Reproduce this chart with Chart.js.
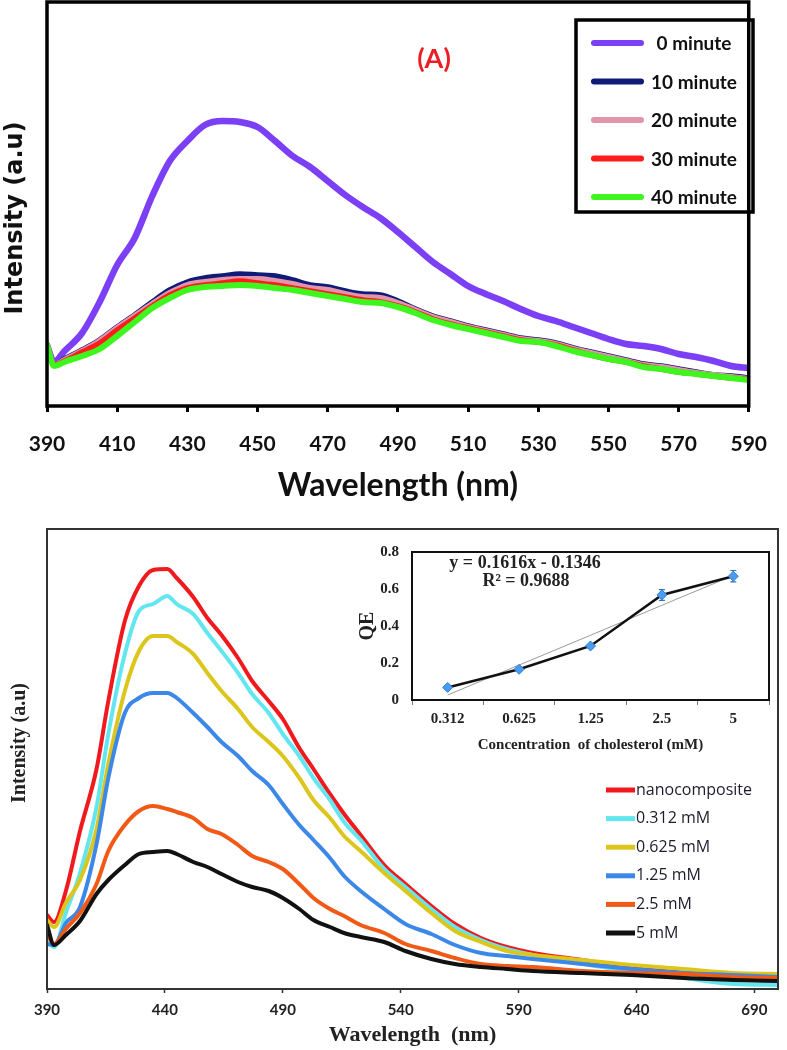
<!DOCTYPE html>
<html>
<head>
<meta charset="utf-8">
<script src="https://cdn.jsdelivr.net/npm/chart.js@4.4.1/dist/chart.umd.min.js"></script>
<style>
html,body{margin:0;padding:0;background:#fff;}
#wrap{position:relative;width:787px;height:1050px;overflow:hidden;background:#fff;}
canvas{position:absolute;}
</style>
</head>
<body>
<div id="wrap">
<canvas id="cA" width="787" height="505" style="left:0;top:0;"></canvas>
<canvas id="cB" width="787" height="545" style="left:0;top:505px;"></canvas>
<canvas id="cC" width="432" height="230" style="left:355px;top:530px;"></canvas>
</div>
<script>
// ---------- Panel A : emission vs time ----------
const wavelengthA = [390,392,395,400,405,410,415,420,425,430,435,440,445,450,455,460,465,470,475,480,485,490,495,500,505,510,515,520,525,530,535,540,545,550,555,560,565,570,575,580,585,590];
const minute0  = [61,44,55,73,104,141,168,210,245,265,281,285,284,279,265,250,239,225,211,199,188,174,159,144,132,120,112,105,97,90,85,79,73,67,62,60,57,52,49,45,40,38];
const minute10 = [61,41,47,56,66,79,91,104,116,124,128,130,132,131,130,126,121,119,115,112,111,105,97,90,85,80,76,72,68,66,63,58,54,50,46,42,40,37,34,31,30,28];
const minute20 = [61,41,46,55,65,78,90,102,113,121,124,126,127,127,125,122,118,116,112,109,108,103,96,89,84,79,75,71,67,65,62,57,53,49,45,41,39,36,33,31,29,27];
const minute30 = [61,41,45,54,63,76,88,100,111,118,121,123,125,123,121,118,115,112,109,106,104,100,94,87,82,78,74,70,66,64,61,56,51,47,44,40,37,34,32,30,28,27];
const minute40 = [61,40,44,50,57,70,84,98,108,116,119,120,121,120,118,116,113,110,107,104,103,99,93,86,81,77,73,69,65,64,60,55,51,47,44,39,37,34,32,30,28,26];
const labelsA = ['0 minute','10 minute','20 minute','30 minute','40 minute'];
const ticksA = [390,410,430,450,470,490,510,530,550,570,590];

// ---------- Panel B : emission vs cholesterol ----------
const wavelengthB = [390,393,398,404,411,416,423,429,435,441,445,452,458,464,471,477,484,490,497,503,510,516,523,533,542,553,563,574,585,596,617,638,660,681,700];
const nanocomposite = [74,67,98,158,220,288,368,403,419,420,411,392,371,354,331,308,288,270,241,220,195,175,154,124,105,83,65,51,42,36,29,22,16,13,11];
const mM0312 = [47,42,76,116,182,255,335,378,385,393,385,375,356,338,316,295,276,255,233,211,189,167,149,120,102,80,62,49,40,34,25,18,11,5,4];
const mM0625 = [69,62,86,109,160,225,298,338,353,353,347,335,316,298,280,262,247,233,211,189,171,153,138,116,98,76,58,47,38,34,29,24,20,16,15];
const mM125  = [45,44,66,82,145,211,276,291,296,296,291,276,262,247,233,218,204,185,164,149,131,113,98,80,65,55,44,36,33,30,25,20,16,14,12];
const mM25   = [55,45,60,76,105,138,164,178,183,180,177,171,160,155,144,133,127,120,105,91,80,73,64,56,45,38,31,25,23,22,18,16,15,12,11];
const mM5    = [64,44,54,68,95,109,124,135,137,138,135,127,122,115,107,102,98,91,80,69,62,56,52,47,38,30,25,22,20,18,16,14,11,9,8];
const labelsB = ['nanocomposite','0.312 mM','0.625 mM','1.25 mM','2.5 mM','5 mM'];
const ticksB = [390,440,490,540,590,640,690];

// ---------- Inset : QE vs concentration ----------
const concLabels = ['0.312','0.625','1.25','2.5','5'];
const qeValues = [0.068,0.166,0.292,0.568,0.669];
const qeErrors = [0.008,0.012,0.010,0.029,0.031];
const qeTrend  = [0.027,0.189,0.350,0.512,0.673];
const ticksQE  = [0,0.2,0.4,0.6,0.8];

const xy = (xs, ys) => xs.map((x, i) => ({x: x, y: ys[i]}));
const fixedTicks = arr => (scale => { scale.ticks = arr.map(v => ({value: v})); });

// ---------------- Chart A ----------------
const colorsA = ['#7b3ff6','#101a78','#e194aa','#ff1c1c','#3ef51e'];
const widthsA = [6.5,5.5,6,5.5,6];
const ordersA = [4,3,2,1,0];
const seriesA = [minute0, minute10, minute20, minute30, minute40];

const decorA = {
  id: 'decorA',
  afterDatasetsDraw(chart) {
    const {ctx, chartArea: a} = chart;
    ctx.save();
    ctx.strokeStyle = '#000';
    ctx.lineWidth = 3.5;
    ctx.strokeRect(a.left, a.top, a.right - a.left, a.bottom - a.top);
    ctx.lineWidth = 3.5;
    ctx.strokeRect(576, 20, 177, 192);
    chart.data.datasets.forEach((ds, i) => {
      const y = 43 + i * 38.5;
      ctx.beginPath();
      ctx.lineCap = 'round';
      ctx.strokeStyle = ds.borderColor;
      ctx.lineWidth = 6;
      ctx.moveTo(594, y); ctx.lineTo(641, y);
      ctx.stroke();
      ctx.fillStyle = '#111';
      ctx.font = 'bold 19px Lato';
      ctx.textAlign = 'center';
      ctx.textBaseline = 'middle';
      ctx.fillText(ds.label, 694, y + 1);
    });
    ctx.fillStyle = '#ee1d23';
    ctx.font = 'bold 27px Lato';
    ctx.textAlign = 'center';
    ctx.textBaseline = 'middle';
    ctx.fillText('(A)', 434, 59);
    ctx.translate(16, 218);
    ctx.rotate(-Math.PI / 2);
    ctx.fillStyle = '#111';
    ctx.font = 'bold 24px "DejaVu Sans"';
    ctx.fillText('Intensity (a.u)', 0, 0);
    ctx.restore();
  }
};

new Chart(document.getElementById('cA'), {
  type: 'line',
  data: {
    datasets: seriesA.map((s, i) => ({
      label: labelsA[i],
      data: xy(wavelengthA, s),
      borderColor: colorsA[i],
      borderWidth: widthsA[i],
      order: ordersA[i],
      fill: false
    }))
  },
  options: {
    responsive: false, animation: false, devicePixelRatio: 1,
    layout: {padding: {left: 47, right: 19, top: 2, bottom: 0}},
    plugins: {legend: {display: false}, tooltip: {enabled: false}},
    elements: {point: {radius: 0}, line: {cubicInterpolationMode: 'monotone', borderCapStyle: 'round', borderJoinStyle: 'round'}},
    scales: {
      x: {
        type: 'linear', min: 390, max: 590,
        afterBuildTicks: fixedTicks(ticksA),
        ticks: {padding: 20, color: '#111', maxRotation: 0, autoSkip: false,
                font: {family: 'Lato', weight: 'bold', size: 21}},
        grid: {display: true, drawOnChartArea: false, drawTicks: true, tickLength: 6, tickWidth: 3, tickColor: '#000'},
        border: {display: false},
        title: {display: true, text: 'Wavelength (nm)', color: '#111', padding: {top: 0, bottom: 0},
                font: {family: 'Lato', weight: 'bold', size: 32}},
        afterFit: s => { s.height = 99; }
      },
      y: {display: false, min: 0, max: 404}
    }
  },
  plugins: [decorA]
});

// ---------------- Chart B ----------------
const colorsB = ['#f01a1e','#62e6ef','#dcc61e','#3c88e8','#f05a16','#111111'];
const ordersB = [5,4,3,2,1,0];
const seriesB = [nanocomposite, mM0312, mM0625, mM125, mM25, mM5];

const decorB = {
  id: 'decorB',
  afterDatasetsDraw(chart) {
    const {ctx, chartArea: a} = chart;
    ctx.save();
    ctx.strokeStyle = '#333';
    ctx.lineWidth = 2;
    ctx.strokeRect(a.left, a.top, a.right - a.left, a.bottom - a.top);
    chart.data.datasets.forEach((ds, i) => {
      const y = 285 + i * 28.6;
      ctx.beginPath();
      ctx.lineCap = 'butt';
      ctx.strokeStyle = ds.borderColor;
      ctx.lineWidth = 5;
      ctx.moveTo(606, y); ctx.lineTo(635, y);
      ctx.stroke();
      ctx.fillStyle = '#1c1c2c';
      ctx.font = '16px "Open Sans"';
      ctx.textAlign = 'left';
      ctx.textBaseline = 'middle';
      ctx.fillText(ds.label, 636, y);
    });
    ctx.translate(20, 238);
    ctx.rotate(-Math.PI / 2);
    ctx.fillStyle = '#222';
    ctx.font = 'bold 20px "Liberation Serif"';
    ctx.textAlign = 'center';
    ctx.textBaseline = 'middle';
    ctx.fillText('Intensity (a.u)', 0, 0);
    ctx.restore();
  }
};

new Chart(document.getElementById('cB'), {
  type: 'line',
  data: {
    datasets: seriesB.map((s, i) => ({
      label: labelsB[i],
      data: xy(wavelengthB, s),
      borderColor: colorsB[i],
      borderWidth: 4,
      order: ordersB[i],
      fill: false
    }))
  },
  options: {
    responsive: false, animation: false, devicePixelRatio: 1,
    layout: {padding: {left: 47, right: 9, top: 24, bottom: 0}},
    plugins: {legend: {display: false}, tooltip: {enabled: false}},
    elements: {point: {radius: 0}, line: {cubicInterpolationMode: 'monotone', borderCapStyle: 'round', borderJoinStyle: 'round'}},
    scales: {
      x: {
        type: 'linear', min: 390, max: 700,
        afterBuildTicks: fixedTicks(ticksB),
        ticks: {padding: 8, color: '#222', maxRotation: 0, autoSkip: false,
                font: {family: 'Lato', weight: 'bold', size: 15}},
        grid: {display: true, drawOnChartArea: false, drawTicks: true, tickLength: 4, tickWidth: 1.5, tickColor: '#333'},
        border: {display: false},
        title: {display: true, text: 'Wavelength  (nm)', color: '#222', padding: {top: 0, bottom: 1},
                font: {family: 'Liberation Serif', weight: 'bold', size: 22}},
        afterFit: s => { s.height = 61; }
      },
      y: {display: false, min: 0, max: 460}
    }
  },
  plugins: [decorB]
});

// ---------------- Chart C (inset) ----------------
const decorC = {
  id: 'decorC',
  beforeDatasetsDraw(chart) {
    const {ctx, scales: {x, y}} = chart;
    ctx.save();
    ctx.strokeStyle = '#3b6fb0';
    ctx.lineWidth = 1.2;
    qeValues.forEach((v, i) => {
      const px = x.getPixelForValue(i);
      const y1 = y.getPixelForValue(v + qeErrors[i]);
      const y2 = y.getPixelForValue(v - qeErrors[i]);
      ctx.beginPath();
      ctx.moveTo(px, y1); ctx.lineTo(px, y2);
      ctx.moveTo(px - 3, y1); ctx.lineTo(px + 3, y1);
      ctx.moveTo(px - 3, y2); ctx.lineTo(px + 3, y2);
      ctx.stroke();
    });
    ctx.restore();
  },
  afterDatasetsDraw(chart) {
    const {ctx, chartArea: a} = chart;
    ctx.save();
    ctx.strokeStyle = '#111';
    ctx.lineWidth = 2;
    ctx.strokeRect(a.left, a.top, a.right - a.left, a.bottom - a.top);
    ctx.fillStyle = '#222';
    ctx.font = 'bold 18px "Liberation Serif"';
    ctx.textAlign = 'center';
    ctx.textBaseline = 'middle';
    ctx.fillText('y = 0.1616x - 0.1346', 170, 33);
    ctx.fillText('R\u00B2 = 0.9688', 171, 51);
    ctx.restore();
  }
};

new Chart(document.getElementById('cC'), {
  type: 'line',
  data: {
    labels: concLabels,
    datasets: [
      {label: 'QE', data: qeValues, borderColor: '#111', borderWidth: 2.5, tension: 0,
       pointStyle: 'rectRot', pointRadius: 5, pointBackgroundColor: '#4b9bef', pointBorderColor: '#2f7fd8', pointBorderWidth: 1, order: 0},
      {label: 'Linear (QE)', data: qeTrend, borderColor: '#9a9a9a', borderWidth: 1, pointRadius: 0, tension: 0, order: 1}
    ]
  },
  options: {
    responsive: false, animation: false, devicePixelRatio: 1,
    layout: {padding: {left: 0, right: 18, top: 13, bottom: 0}},
    plugins: {legend: {display: false}, tooltip: {enabled: false}},
    scales: {
      x: {
        type: 'category', offset: true,
        ticks: {padding: 5, color: '#222', font: {family: 'Liberation Serif', weight: 'bold', size: 15}, maxRotation: 0, autoSkip: false},
        grid: {display: true, offset: true, drawOnChartArea: false, drawTicks: true, tickLength: 5, tickWidth: 1, tickColor: '#777'},
        border: {display: false},
        title: {display: true, text: 'Concentration  of cholesterol (mM)', color: '#222', padding: {top: 0, bottom: 6},
                font: {family: 'Liberation Serif', weight: 'bold', size: 15}},
        afterFit: s => { s.height = 60; }
      },
      y: {
        min: 0, max: 0.8,
        afterBuildTicks: fixedTicks(ticksQE),
        ticks: {padding: 13, color: '#222', font: {family: 'Liberation Serif', weight: 'bold', size: 15}},
        grid: {display: false, drawTicks: false},
        border: {display: false},
        title: {display: true, text: 'QE', color: '#222', padding: {top: 1, bottom: 0},
                font: {family: 'Liberation Serif', weight: 'bold', size: 20}},
        afterFit: s => { s.width = 57; }
      }
    }
  },
  plugins: [decorC]
});
</script>
</body>
</html>
